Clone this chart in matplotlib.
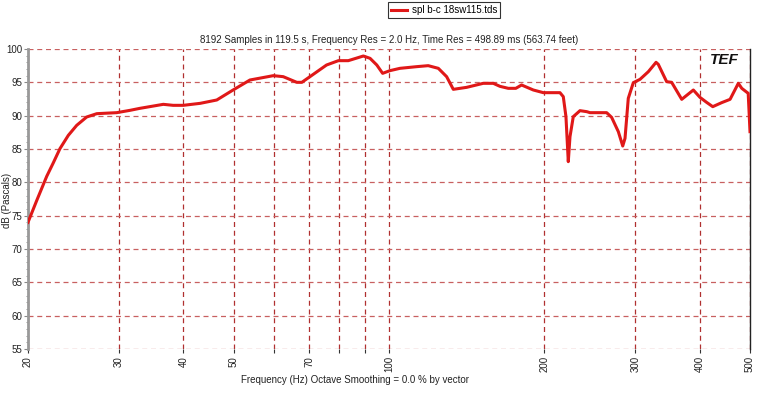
import numpy as np
import matplotlib
matplotlib.use("Agg")
from matplotlib import pyplot as plt
from matplotlib.ticker import FixedLocator, MultipleLocator

freq = [20, 20.8, 21.74, 22.38, 23.06, 23.94, 24.85, 25.98, 27.18, 29.7, 31.52, 32.94,
        36.56, 38.2, 39.96, 43.1, 46.4, 49.9, 53.8, 59.7, 62.4, 66.3, 67.8, 70.3,
        75.7, 79.8, 83.4, 89.2, 91.9, 94.7, 97.2, 100.4, 105, 113.1, 119.1, 124.6,
        129.3, 133.2, 141.4, 152.2, 159.2, 164, 170.2, 176, 180.6, 190.3, 199,
        214.3, 217.5, 220.1, 222.4, 224.1, 227.4, 234.3, 241.5, 245, 263.9, 269.8,
        278, 283.5, 286.4, 290.6, 297.2, 306.2, 317.8, 328.9, 332.2, 344.8, 352.6,
        368.8, 388.4, 400, 412, 423.5, 440.6, 457.5, 474.6, 482, 496, 500]
spl = [74.0, 77.3, 80.9, 82.9, 85.05, 87.05, 88.55, 89.8, 90.3, 90.45, 90.8, 91.1,
       91.7, 91.55, 91.55, 91.85, 92.35, 93.85, 95.35, 96.0, 95.85, 95.0, 95.0, 95.85,
       97.6, 98.25, 98.25, 98.95, 98.6, 97.6, 96.35, 96.75, 97.1, 97.35, 97.5, 97.1,
       95.85, 93.95, 94.25, 94.85, 94.85, 94.4, 94.1, 94.1, 94.6, 93.85, 93.45,
       93.45, 92.85, 89.85, 83.1, 86.85, 89.85, 90.75, 90.6, 90.45, 90.45, 89.75,
       87.6, 85.45, 86.6, 92.6, 94.95, 95.45, 96.6, 98.0, 97.7, 95.1, 95.0,
       92.45, 93.85, 92.75, 92.0, 91.35, 91.95, 92.45, 94.85, 94.1, 93.35, 87.6]

xgrid = [20, 30, 40, 50, 60, 70, 80, 90, 100, 200, 300, 400, 500]
xlabels = ["20", "30", "40", "50", "", "70", "", "", "100", "200", "300", "400", "500"]
yticks = [55, 60, 65, 70, 75, 80, 85, 90, 95, 100]

plt.rcParams['font.family'] = ['Liberation Sans', 'DejaVu Sans']
plt.rcParams['font.size'] = 7

fig = plt.figure(figsize=(7.83, 3.96), dpi=100)
ax = fig.add_axes([28 / 783, 1 - 349 / 396, 722 / 783, 300 / 396])

line, = ax.plot(freq, spl, color="#e01818", lw=2.2, solid_joinstyle="round",
                label="spl b-c 18sw115.tds", zorder=3)

ax.set_xscale("log")
ax.set_xlim(20, 500)
ax.set_ylim(55, 100)
ax.xaxis.set_major_locator(FixedLocator(xgrid))
ax.xaxis.set_minor_locator(FixedLocator([]))
ax.set_xticklabels(xlabels, rotation=90)
ax.set_yticks(yticks)
ax.yaxis.set_minor_locator(MultipleLocator(1))
ax.tick_params(axis="x", length=3, pad=2, colors="#333333", labelcolor="#222222")
ax.tick_params(axis="y", length=3, pad=1, colors="#888888", labelcolor="#222222")
ax.tick_params(axis="y", which="minor", length=1.5, colors="#888888")

for f in xgrid:
    ax.axvline(f, color="#b03030", lw=0.9, ls=(0, (4, 3)), zorder=1)
for y in yticks:
    ax.axhline(y, color="#c86060", lw=0.9, ls=(0, (4, 3)), zorder=1)

for s in ["top", "bottom"]:
    ax.spines[s].set_visible(False)
ax.spines["left"].set_color("#999999")
ax.spines["left"].set_linewidth(2.0)
ax.spines["right"].set_color("#222222")
ax.spines["right"].set_linewidth(1.0)

ax.set_title("8192 Samples in 119.5 s, Frequency Res = 2.0 Hz, Time Res = 498.89 ms (563.74 feet)",
             fontsize=7, pad=4, color="#222222")
fig.text(7 / 783, 1 - 200 / 396, "dB (Pascals)", rotation=90, ha="center", va="center",
         fontsize=7, color="#222222")
fig.text(355 / 783, 1 - 380 / 396, "Frequency (Hz) Octave Smoothing = 0.0 % by vector",
         ha="center", va="center", fontsize=7, color="#222222")

leg = fig.legend(handles=[line], loc="upper center", bbox_to_anchor=(444 / 783, 1 - 2 / 396),
                 frameon=True, fancybox=False, fontsize=7, handlelength=1.6,
                 borderpad=0.3, handletextpad=0.5, borderaxespad=0)
leg.get_frame().set_edgecolor("#000000")
leg.get_frame().set_linewidth(0.8)

# TEF logo
ax.text(0.985, 0.985, "TEF", transform=ax.transAxes, ha="right", va="top",
        fontsize=11, fontweight="bold", style="italic", color="#111111", zorder=4)

fig.savefig("out.png", dpi=100)
